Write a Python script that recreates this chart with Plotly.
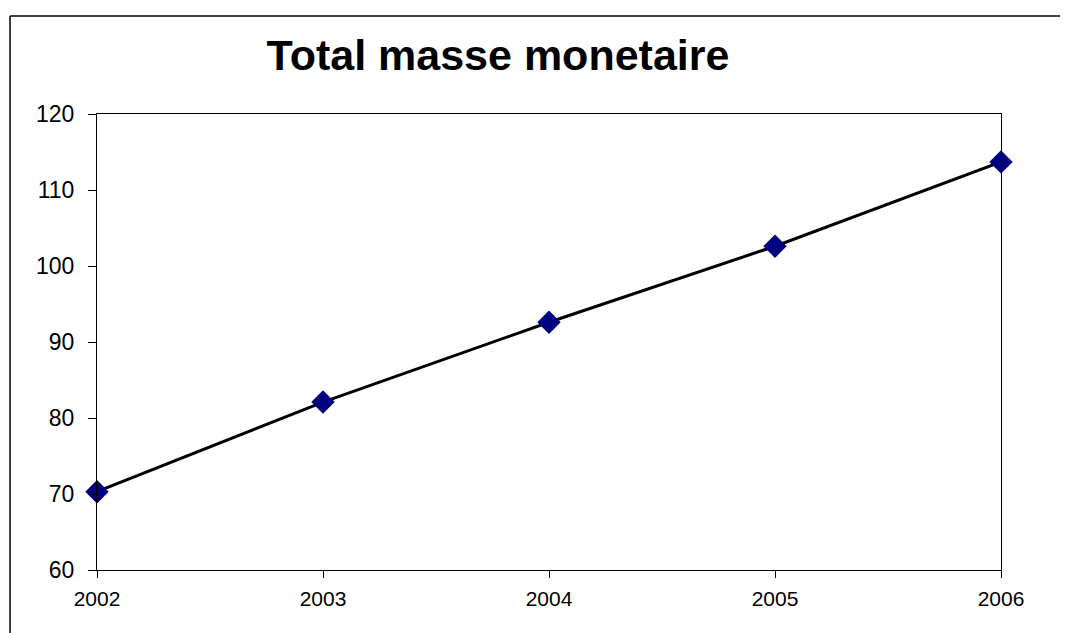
import plotly.graph_objects as go

# Donnees
annees = [2002, 2003, 2004, 2005, 2006]
masse_monetaire = [70.3, 82.1, 92.6, 102.6, 113.7]
y_ticks = [60, 70, 80, 90, 100, 110, 120]

fig = go.Figure()
fig.add_trace(go.Scatter(
    x=annees, y=masse_monetaire, mode="lines+markers",
    line=dict(color="black", width=3),
    marker=dict(symbol="diamond", size=18, color="#000080"),
    cliponaxis=False, showlegend=False))

fig.update_xaxes(range=[2002, 2006], tickvals=annees, ticktext=[str(a) for a in annees],
                 showline=True, linecolor="black", linewidth=1, mirror=True,
                 ticks="outside", ticklen=7, tickcolor="black", showgrid=False, zeroline=False,
                 ticklabelstandoff=3,
                 tickfont=dict(size=21, color="black"))
fig.update_yaxes(range=[60, 120], tickvals=y_ticks,
                 showline=True, linecolor="black", linewidth=1, mirror=True,
                 ticks="outside", ticklen=8, tickcolor="black", showgrid=False, zeroline=False,
                 ticklabelstandoff=9,
                 tickfont=dict(size=23, color="black"))

# la page ajoute une marge de 8px autour du graphique
fig.update_layout(width=1068, height=633, template="none",
                  font_family="Liberation Sans",
                  plot_bgcolor="white", paper_bgcolor="white",
                  margin=dict(l=89, r=75, t=106, b=71),
                  title=dict(text="<b>Total masse monetaire</b>", x=490/1068, xanchor="center",
                             y=1-47/633, yanchor="middle",
                             font=dict(size=43, color="black", family="Liberation Sans")))

# Cadre exterieur (gauche et haut)
fig.add_shape(type="line", xref="paper", yref="paper", x0=-0.0962, x1=-0.0962, y0=-0.2, y1=1.2149,
              line=dict(color="black", width=1.5))
fig.add_shape(type="line", xref="paper", yref="paper", x0=-0.0962, x1=1.2, y0=1.2149, y1=1.2149,
              line=dict(color="black", width=1.5))

fig.write_html("out.html")
